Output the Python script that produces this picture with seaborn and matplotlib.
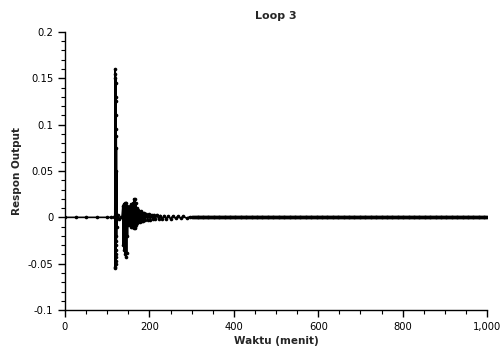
import matplotlib
matplotlib.use("Agg")
import matplotlib.pyplot as plt
import seaborn as sns
import pandas as pd
from matplotlib.ticker import MultipleLocator, FuncFormatter

# --- data ---
t_before = [0, 25, 50, 75, 100, 110, 116]
v_before = [0, 0, 0, 0, 0, 0, 0]

t_spike = [118, 119.0, 119.15, 119.3, 119.45, 119.6, 119.75, 119.9, 120.05, 120.2,
           120.35, 120.5, 120.65, 120.8, 120.95, 121.1, 121.25, 121.4, 121.55,
           121.7, 121.85, 122, 123, 125, 128, 132, 135]
v_spike = [0.002, 0.16, -0.055, 0.155, -0.053, 0.15, -0.05, 0.145, -0.047, 0.13,
           -0.043, 0.125, -0.04, 0.11, -0.035, 0.095, -0.03, 0.088, -0.025, 0.075,
           -0.02, 0.05, -0.01, 0.003, -0.002, 0.0, 0.0]

t_osc2 = [137, 138, 139, 140, 141, 142, 143, 144, 145, 146, 147, 148, 149, 150,
          151, 152]
v_osc2 = [0.012, -0.03, 0.014, -0.035, 0.015, -0.04, 0.013, -0.043, 0.016, -0.038,
          0.012, -0.02, 0.01, -0.008, 0.006, -0.004]

t_osc3 = [154, 155, 156, 157, 158, 159, 160, 161, 162, 163, 164, 165, 166, 167,
          168, 169, 170, 171, 172]
v_osc3 = [0.012, -0.008, 0.014, -0.01, 0.012, -0.01, 0.01, -0.008, 0.016, -0.012,
          0.02, -0.011, 0.02, -0.01, 0.015, -0.008, 0.01, -0.006, 0.008]

t_decay = [174, 176, 178, 180, 182, 184, 186, 188, 190, 193, 196, 199, 202, 205,
           208, 211, 214, 218, 222, 226, 230, 235, 240, 245, 250, 256, 262, 268,
           274, 280, 288, 296, 302]
v_decay = [-0.005, 0.006, -0.005, 0.007, -0.004, 0.005, -0.004, 0.005, -0.003,
           0.004, -0.003, 0.004, -0.003, 0.003, -0.002, 0.003, -0.002, 0.003,
           -0.002, 0.002, -0.002, 0.002, -0.0015, 0.0015, -0.0015, 0.0015, -0.001,
           0.0012, -0.001, 0.001, -0.0008, 0.0006, 0.0]

t_after = list(range(304, 1001, 2))
v_after = [0.0] * len(t_after)

df = pd.DataFrame({
    "t": t_before + t_spike + t_osc2 + t_osc3 + t_decay + t_after,
    "v": v_before + v_spike + v_osc2 + v_osc3 + v_decay + v_after,
})

sns.set_style("white")
plt.rcParams["font.family"] = ["DejaVu Sans"]

fig = plt.figure(figsize=(5.0, 3.54), dpi=100)
ax = fig.add_axes([0.13, 0.124, 0.844, 0.786])

sns.lineplot(data=df, x="t", y="v", ax=ax, color="black", linewidth=1.2,
             marker="o", markersize=2.6, markeredgewidth=0, estimator=None,
             sort=True)

ax.set_xlim(0, 1000)
ax.set_ylim(-0.1, 0.2)
ax.xaxis.set_major_locator(MultipleLocator(200))
ax.xaxis.set_minor_locator(MultipleLocator(50))
ax.yaxis.set_major_locator(MultipleLocator(0.05))
ax.yaxis.set_minor_locator(MultipleLocator(0.01))
ax.xaxis.set_major_formatter(FuncFormatter(lambda x, p: f"{int(round(x)):,}"))
ax.yaxis.set_major_formatter(FuncFormatter(lambda y, p: ("0" if abs(y) < 1e-9 else f"{y:g}")))

for s in ["top", "right"]:
    ax.spines[s].set_visible(False)
for s in ["left", "bottom"]:
    ax.spines[s].set_color("black")
    ax.spines[s].set_linewidth(1.0)

ax.tick_params(axis="both", which="major", direction="out", length=5, width=1,
               labelsize=7.2, colors="black", left=True, bottom=True)
ax.tick_params(axis="both", which="minor", direction="out", length=3, width=0.8,
               colors="black", left=True, bottom=True)

ax.set_xlabel("Waktu (menit)", fontsize=7.5, fontweight="bold", labelpad=3)
ax.set_ylabel("Respon Output", fontsize=7.5, fontweight="bold", labelpad=4)
ax.set_title("Loop 3", fontsize=8, fontweight="bold", pad=9)

fig.savefig("out.png", dpi=100)
